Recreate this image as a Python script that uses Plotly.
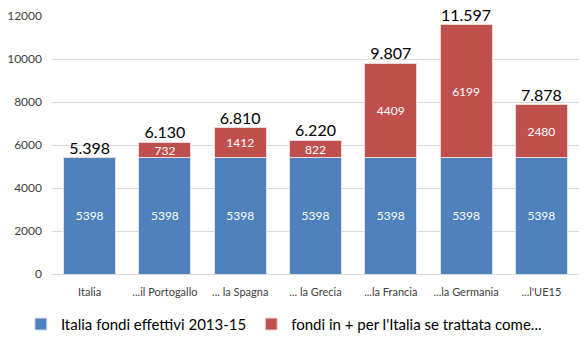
import plotly.graph_objects as go

categories = ["Italia", "...il Portogallo", "... la Spagna", "... la Grecia", "...la Francia", "...la Germania", "...l'UE15"]
base_values = [5398, 5398, 5398, 5398, 5398, 5398, 5398]
extra_values = [0, 732, 1412, 822, 4409, 6199, 2480]
series_names = ["Italia fondi effettivi 2013-15", "fondi in + per l'Italia se trattata come..."]
y_ticks = [0, 2000, 4000, 6000, 8000, 10000, 12000]

totals = [b + e for b, e in zip(base_values, extra_values)]
FONT = "Lato, Carlito, sans-serif"

fig = go.Figure()
fig.add_trace(go.Bar(
    x=categories, y=base_values, name=series_names[0],
    marker=dict(color="#4F81BD", line=dict(color="#D8E2F0", width=1)),
    text=[str(v) for v in base_values], textposition="inside", insidetextanchor="middle",
    constraintext="none",
    textfont=dict(color="white", size=12, family=FONT),
))
fig.add_trace(go.Bar(
    x=categories, y=extra_values, name=series_names[1],
    marker=dict(color="#C0504D", line=dict(color="#F0D8D8", width=1)),
    text=[str(v) if v else "" for v in extra_values], textposition="inside", insidetextanchor="middle",
    constraintext="none",
    textfont=dict(color="white", size=12, family=FONT),
))
fig.add_trace(go.Scatter(
    x=categories, y=totals, mode="text", text=[f"{t:,}".replace(",", ".") for t in totals],
    textposition="top center", textfont=dict(color="black", size=16, family=FONT),
    showlegend=False, hoverinfo="skip", cliponaxis=False,
))

fig.update_layout(
    barmode="stack", bargap=0.31,
    width=588, height=342,
    margin=dict(l=52, r=9, t=16, b=68),
    plot_bgcolor="white", paper_bgcolor="white",
    font=dict(family=FONT, color="#404040"),
    legend=dict(orientation="h", x=0.44, xanchor="center", yref="container", y=0.1, yanchor="top",
                font=dict(size=15, color="black", family=FONT), traceorder="normal",
                itemwidth=30, tracegroupgap=0),
    showlegend=True,
)
fig.update_xaxes(tickfont=dict(size=11, color="#404040"), showline=True, linecolor="#D9D9D9",
                 ticks="", fixedrange=True, ticklabelstandoff=8, automargin=False)
fig.update_yaxes(range=[0, 12000], tickvals=y_ticks, ticktext=[str(v) for v in y_ticks],
                 showgrid=True, gridcolor="#D9D9D9", zeroline=False,
                 tickfont=dict(size=12, color="#404040"), ticks="", ticklen=0,
                 ticklabelstandoff=9, automargin=False)

fig.write_html("out.html")
